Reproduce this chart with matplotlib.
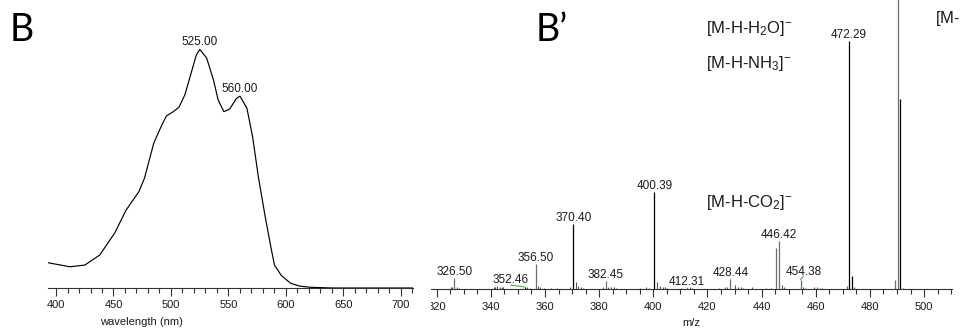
import numpy as np
import matplotlib
matplotlib.use("Agg")
import matplotlib.pyplot as plt
from matplotlib.ticker import MultipleLocator
from matplotlib.transforms import Bbox, TransformedBbox

plt.rcParams['font.family'] = ['Liberation Sans', 'DejaVu Sans']
plt.rcParams['mathtext.fontset'] = 'custom'
plt.rcParams['mathtext.rm'] = 'Liberation Sans'
plt.rcParams['mathtext.default'] = 'regular'

# ---------------- data: panel B (absorption spectrum) ----------------
wavelength = [393, 412, 425, 438, 451, 461, 472, 477, 485, 492, 496, 502, 507,
              512, 517, 522, 525, 531, 537, 541, 546, 551, 557, 560, 566, 571,
              576, 582, 587, 590, 596, 604, 612, 621, 641, 710]
absorbance = [0.106, 0.089, 0.096, 0.138, 0.230, 0.327, 0.403, 0.461, 0.607,
              0.683, 0.721, 0.739, 0.758, 0.809, 0.892, 0.976, 1.000, 0.964,
              0.871, 0.788, 0.739, 0.750, 0.795, 0.804, 0.754, 0.633, 0.465,
              0.297, 0.168, 0.096, 0.052, 0.020, 0.008, 0.003, 0.0, 0.0]
uv_peaks = [525.00, 560.00]

# ---------------- data: panel B' (mass spectrum) ----------------
peak_mz = [326.50, 352.46, 356.50, 370.40, 382.45, 400.39, 412.31, 428.44,
           445.40, 446.42, 454.38, 472.29, 473.30, 489.30, 490.40, 491.20]
peak_int = [3.7, 0.7, 8.8, 22.6, 2.6, 33.4, 0.5, 3.5,
            14.1, 16.5, 3.2, 85.8, 4.4, 3.1, 130.0, 65.7]
peak_gray = [True, False, True, False, True, False, False, True,
             True, True, True, False, False, True, True, False]

noise_mz = [325.3, 325.8, 327.4, 328.2, 341.0, 341.6, 342.3, 343.2, 344.0,
            344.6, 353.5, 354.4, 357.4, 358.3, 359.5, 362.3, 364.5, 369.3,
            371.4, 372.3, 373.3, 374.2, 381.4, 383.4, 384.4, 385.3, 386.3,
            395.2, 397.4, 398.4, 401.4, 402.3, 403.4, 404.3, 405.2, 410.2,
            413.4, 414.3, 424.3, 426.3, 427.4, 430.3, 431.3, 432.3, 433.2,
            436.5, 441.5, 443.3, 447.4, 448.3, 455.3, 456.2, 459.5, 460.5,
            461.5, 462.4, 471.4, 474.2, 492.3]
noise_int = [0.7, 0.7, 0.7, 0.5, 0.6, 0.8, 0.9, 0.7, 0.8,
             0.6, 0.6, 0.5, 1.2, 0.6, 0.5, 0.5, 0.4, 0.6,
             2.3, 1.0, 0.8, 0.5, 0.6, 0.8, 0.7, 0.6, 0.5,
             0.5, 0.6, 0.4, 2.3, 1.0, 0.8, 0.7, 0.5, 0.5,
             0.6, 0.5, 0.5, 0.6, 0.6, 1.5, 0.8, 0.6, 0.5,
             0.6, 0.5, 0.4, 1.3, 0.7, 0.7, 0.5, 0.6, 0.6,
             0.5, 0.5, 1.0, 0.6, 0.5]

labelled_mz = [326.50, 352.46, 356.50, 370.40, 382.45, 400.39, 412.31,
               428.44, 446.42, 454.38, 472.29]
leader_mz = [352.46, 454.38]

ion_labels = ['[M-H-H$_2$O]$^{-}$', '[M-H-NH$_3$]$^{-}$',
              '[M-H-CO$_2$]$^{-}$', '[M-H]$^{-}$']

W, H = 961, 332
fig = plt.figure(figsize=(W / 100, H / 100), dpi=100)

tick_col = '#1a1a1a'


def style_axis(ax):
    for s in ['left', 'right', 'top']:
        ax.spines[s].set_visible(False)
    ax.spines['bottom'].set_color('#333333')
    ax.spines['bottom'].set_linewidth(0.8)
    ax.set_yticks([])
    ax.tick_params(axis='x', which='major', direction='out', length=5.6,
                   width=0.8, color='#333333', labelsize=8,
                   labelcolor=tick_col, pad=3.4)
    ax.tick_params(axis='x', which='minor', direction='out', length=3.6,
                   width=0.8, color='#333333')
    ax.patch.set_visible(False)


# ---------------- left panel ----------------
ax1 = fig.add_axes([48.3 / W, 44 / H, 364.4 / W, 288 / H])
style_axis(ax1)
ax1.plot(wavelength, absorbance, color='black', lw=0.85)
ax1.set_xlim(393.3, 710.2)
ax1.set_ylim(0, 1.207)
ax1.xaxis.set_major_locator(MultipleLocator(50))
ax1.xaxis.set_minor_locator(MultipleLocator(10))
ax1.set_xlabel('wavelength (nm)', x=0.256, fontsize=8, color=tick_col,
               labelpad=4.5)
for p in uv_peaks:
    ax1.annotate(f'{p:.2f}', xy=(p, np.interp(p, wavelength, absorbance)),
                 xytext=(0, 1), textcoords='offset points', ha='center',
                 va='bottom', fontsize=8.5, color=tick_col)

# ---------------- right panel ----------------
ax2 = fig.add_axes([431 / W, 43 / H, 520.7 / W, 289 / H])
style_axis(ax2)
ax2.set_xlim(317.9, 510.2)
ax2.set_ylim(0, 100)
ax2.xaxis.set_major_locator(MultipleLocator(20))
ax2.xaxis.set_minor_locator(MultipleLocator(5))
ax2.set_xlabel('m/z', fontsize=8, color=tick_col, labelpad=4.5)

ax2.vlines(noise_mz, 0, noise_int, colors='#555555', lw=0.8)
cols = ['#6e6e6e' if g else 'black' for g in peak_gray]
ax2.vlines(peak_mz, 0, peak_int, colors=cols, lw=0.9)

label_offsets = {352.46: (-10, 0.5), 454.38: (2, 1.5)}
for m in labelled_mz:
    h = peak_int[peak_mz.index(m)]
    dx, dy = label_offsets.get(m, (0, 0))
    kw = {}
    if m in leader_mz:
        kw['arrowprops'] = dict(arrowstyle='-', color='#3cb43c', lw=0.8,
                                shrinkA=0, shrinkB=0, relpos=(0.5, 0.1))
    ax2.annotate(f'{m:.2f}', xy=(m, h), xytext=(dx, dy),
                 textcoords='offset points', ha='center', va='bottom',
                 fontsize=8.5, color=tick_col, **kw)

ion_pos = [(419.4, 88.5), (419.4, 76.4), (419.4, 28.5), (504.1, 92.1)]
for txt, (x, y) in zip(ion_labels, ion_pos):
    ax2.text(x, y, txt, ha='left', va='baseline', fontsize=12,
             color=tick_col)

fig.canvas.draw()
clip = TransformedBbox(Bbox([[0, -1], [1.2, 1]]), ax2.transAxes)
for lbl in ax2.get_xticklabels():
    lbl.set_clip_box(clip)
    lbl.set_clip_on(True)

# panel letters
fig.text(10 / W, 1 - 41 / H, 'B', fontsize=27, family='Lato',
         va='baseline', ha='left', color='black')
fig.text(535.5 / W, 1 - 41 / H, 'B\u2019', fontsize=27, family='Lato',
         va='baseline', ha='left', color='black')

fig.savefig('out.png', dpi=100)
